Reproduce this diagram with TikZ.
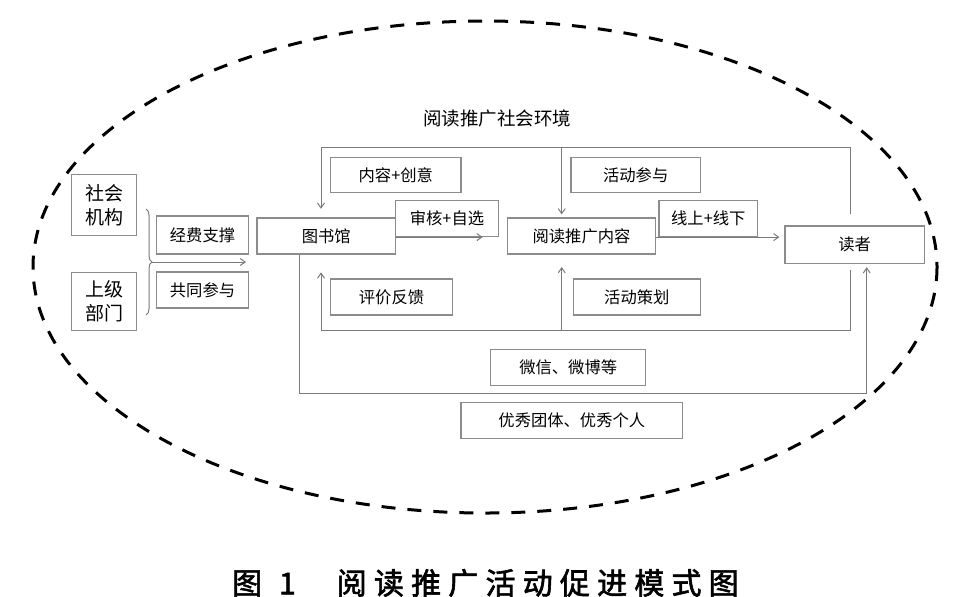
\documentclass[tikz,border=0pt]{standalone}
\usepackage{fontspec}
\newfontfamily\cjk{Noto Sans CJK SC}
\usetikzlibrary{arrows.meta,decorations.pathreplacing}
\definecolor{boxgray}{HTML}{8C8C8C}
\definecolor{linegray}{HTML}{7A7A7A}

\begin{document}
\begin{tikzpicture}[x=0.5pt,y=-0.5pt,
box/.style = {draw=boxgray, line width=0.6pt, inner sep=0pt, minimum height=18pt},
link/.style = {draw=linegray, line width=0.5pt},
arr/.style = {link, -{Straight Barb[length=2.5pt,width=3.5pt]}},
every node/.style = {font=\cjk\fontsize{8.15}{10}\selectfont}]
\useasboundingbox (0,0) rectangle (956,596);
\draw[line width=1.5pt, dash pattern=on 7pt off 6pt] (485,267) ellipse [x radius=452, y radius=246];
\node (hj) at (497,118) [font=\cjk\fontsize{9.25}{11}\selectfont] {阅读推广社会环境};
% left side
\node[box, minimum width=32.5pt, minimum height=30.5pt, align=center,
      font=\cjk\fontsize{9.5}{12}\selectfont] (shjg) at (104,205) {社会\\机构};
\node[box, minimum width=32.5pt, minimum height=29pt, align=center,
      font=\cjk\fontsize{9.5}{12}\selectfont] (sjbm) at (104,301.5) {上级\\部门};
\node[box, minimum width=45.8pt, minimum height=19pt] (jfzc) at (202.5,235) {经费支撑};
\node[box, minimum width=45.8pt] (gtcy) at (202.5,290) {共同参与};
% middle row
\node[box, minimum width=69.3pt] (tsg) at (326.3,236) {图书馆};
\node[box, minimum width=51.3pt] (shzx) at (447,218.5) {审核+自选};
\node[box, minimum width=74.2pt] (tgnr) at (581.5,236) {阅读推广内容};
\node[box, minimum width=49.3pt] (xsxx) at (708.3,218.5) {线上+线下};
\node[box, minimum width=69.7pt, minimum height=18.7pt] (dz) at (854.7,244.7) {读者};
% loops
\node[box, minimum width=65.2pt, minimum height=17.5pt] (nrcy) at (395.8,174.8) {内容+创意};
\node[box, minimum width=64.7pt, minimum height=17.5pt] (hdcy) at (635.7,174.8) {活动参与};
\node[box, minimum width=60.8pt] (pjfk) at (391.5,297) {评价反馈};
\node[box, minimum width=63.5pt] (hdch) at (636.8,297) {活动策划};
\node[box, minimum width=77.5pt] (wxwb) at (568.2,367.5) {微信、微博等};
\node[box, minimum width=110.8pt] (yxtt) at (571.8,420.3) {优秀团体、优秀个人};

\coordinate (bt) at (152,262);
\coordinate (zc) at (246,262);
\coordinate (tr) at (850,147);
\coordinate (tl) at (321,147);
\coordinate (mt) at (561.7,147);
\coordinate (br) at (850,330);
\coordinate (bl) at (321,330);
\coordinate (mb) at (561.7,330);
\coordinate (ql) at (299.3,393);
\coordinate (qr) at (866.7,393);

\draw[link, decorate, decoration={brace, amplitude=3pt}] (146,209) -- (146,315);
\draw[arr] (bt) -- (zc);
\draw[arr, shorten >=12pt] (tsg.east |- shzx.south) -- (tgnr.west |- shzx.south);
\draw[arr, shorten >=2.5pt] (tgnr.east |- xsxx.south) -- (dz.west |- xsxx.south);
\draw[arr, shorten <=5.5pt, shorten >=4.3pt] (dz.north -| tr) -- (tr) -- (tl) -- (tl |- tsg.north);
\draw[arr, shorten >=1.5pt] (mt) -- (mt |- tgnr.north);
\draw[arr, shorten <=2.9pt, shorten >=8.9pt] (dz.south -| br) -- (br) -- (bl) -- (bl |- tsg.south);
\draw[arr, shorten >=6.2pt] (mb) -- (mb |- tgnr.south);
\draw[arr, shorten >=1.6pt] (tsg.south -| ql) -- (ql) -- (qr) -- (qr |- dz.south);

\node[anchor=west, font=\cjk\fontsize{15}{18}\selectfont\addfontfeature{LetterSpace=24,FakeBold=2}]
  (tm) at (225,583) {图\hspace{8.5pt}1\hspace{20.5pt}阅读推广活动促进模式图};
\end{tikzpicture}
\end{document}
